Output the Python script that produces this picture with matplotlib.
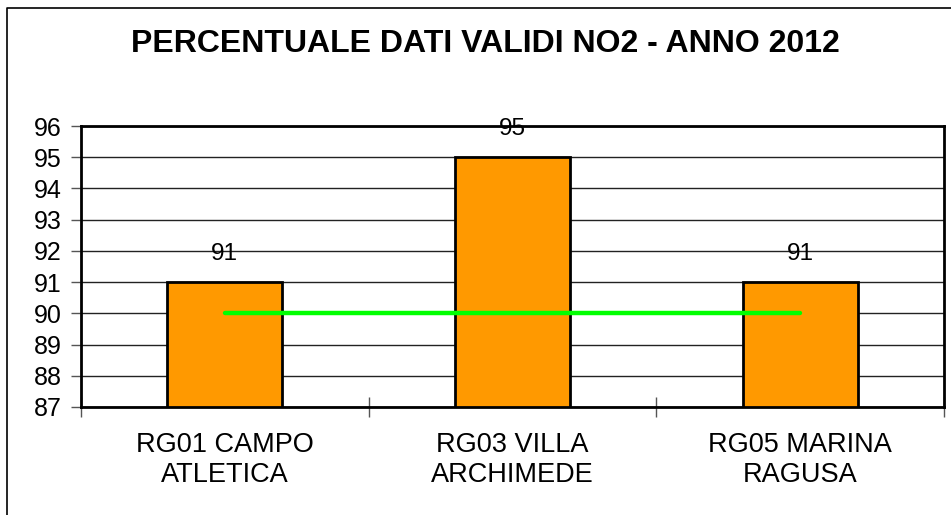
import matplotlib
matplotlib.use("Agg")
import matplotlib.pyplot as plt
from matplotlib.lines import Line2D

categories = ["RG01 CAMPO\nATLETICA", "RG03 VILLA\nARCHIMEDE", "RG05 MARINA\nRAGUSA"]
values = [91, 95, 91]
target = [90, 90, 90]
title = "PERCENTUALE DATI VALIDI NO2 - ANNO 2012"
yticks = list(range(87, 97))

plt.rcParams['font.family'] = ['Liberation Sans', 'DejaVu Sans']

W, H = 951, 515
fig = plt.figure(figsize=(W / 100, H / 100), dpi=100)
ax = fig.add_axes([81 / W, 1 - 407 / H, (944 - 81) / W, (407 - 126) / H])

x = list(range(len(categories)))
ax.bar(x, [v - 87 for v in values], bottom=87, width=0.4, color="#FF9900",
       edgecolor="black", linewidth=2, zorder=3)
ax.plot(x, target, color="#00FF00", linewidth=3.2, solid_capstyle="round", zorder=4)

for xi, v in zip(x, values):
    ax.annotate(str(v), (xi, v), xytext=(0, 28), textcoords="offset pixels",
                ha="center", va="center", fontsize=17.5, zorder=5, annotation_clip=False)

ax.set_xlim(-0.5, 2.5)
ax.set_ylim(87, 96)
ax.set_yticks(yticks)
ax.set_yticklabels([str(t) for t in yticks], fontsize=18)
ax.yaxis.grid(True, color="#222222", linewidth=1)
ax.set_axisbelow(True)
ax.tick_params(axis="y", direction="out", length=7, width=1, color="#555555", pad=7)

ax.set_xticks([-0.5, 0.5, 1.5, 2.5])
ax.set_xticklabels([])
ax.tick_params(axis="x", direction="inout", length=14, width=1, color="#555555")
for xi, lab in zip(x, categories):
    ax.text(xi, -(460.5 - 407) / (407 - 126), lab, transform=ax.get_xaxis_transform(),
            ha="center", va="center", fontsize=19.5, linespacing=1.2)

for s in ax.spines.values():
    s.set_linewidth(2)
    s.set_color("black")

fig.text(485 / W, 1 - 44 / H, title, ha="center", va="center", fontsize=23.0,
         fontweight="bold")

# outer chart-area border (left and top edges visible)
fig.add_artist(Line2D([7 / W, 7 / W, 1.0], [0.0, 1 - 8 / H, 1 - 8 / H],
                      transform=fig.transFigure, color="black", linewidth=1.2))

fig.savefig("out.png", dpi=100)
